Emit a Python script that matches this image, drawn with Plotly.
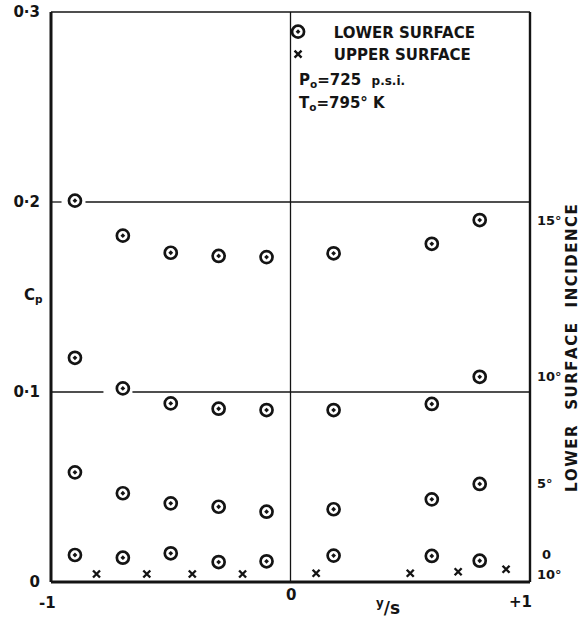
import plotly.graph_objects as go

# Spanwise stations (y/s) of the lower-surface tappings
y_over_s_lower = [-0.9, -0.7, -0.5, -0.3, -0.1, 0.18, 0.59, 0.79]

# Lower-surface pressure coefficient at each incidence
cp_lower_15 = [0.2007, 0.1823, 0.1733, 0.1716, 0.1710, 0.1730, 0.1780, 0.1905]
cp_lower_10 = [0.1180, 0.1019, 0.0940, 0.0912, 0.0905, 0.0905, 0.0937, 0.1080]
cp_lower_5 = [0.0577, 0.0467, 0.0414, 0.0396, 0.0370, 0.0383, 0.0435, 0.0516]
cp_lower_0 = [0.0142, 0.0128, 0.0151, 0.0105, 0.0109, 0.0139, 0.0137, 0.0112]

# Upper-surface tappings
y_over_s_upper = [-0.81, -0.60, -0.41, -0.20, 0.107, 0.50, 0.70, 0.90]
cp_upper = [0.0042, 0.0042, 0.0042, 0.0042, 0.0046, 0.0046, 0.0054, 0.0067]

incidence_labels = ["15°", "10°", "5°", "0"]
y_ticks = [0, 0.1, 0.2, 0.3]
y_tick_text = ["0", "0·1", "0·2", "0·3"]
x_ticks = [-1, 0, 1]
x_tick_text = ["-1", "0", "+1"]

INK = "#141414"
FONT = "DejaVu Sans"


def tfont(size):
    return dict(family=FONT, size=size, color=INK, weight="bold")


def spaced(words):
    # open out the lettering of the rotated side title
    hair = "\u200a"
    return "\u00a0\u00a0\u00a0".join(hair.join(w) for w in words)


fig = go.Figure()

rows = [cp_lower_15, cp_lower_10, cp_lower_5, cp_lower_0]
for i, row in enumerate(rows):
    fig.add_trace(go.Scatter(
        x=y_over_s_lower, y=row, mode="markers",
        name="\u00a0\u00a0\u00a0LOWER SURFACE", showlegend=(i == 0),
        marker=dict(symbol="circle-dot", size=12, color="white",
                    line=dict(color=INK, width=2.7)),
        cliponaxis=False,
    ))

fig.add_trace(go.Scatter(
    x=y_over_s_upper, y=cp_upper, mode="markers",
    name="\u00a0\u00a0\u00a0UPPER SURFACE",
    marker=dict(symbol="x-thin", size=7, line=dict(color=INK, width=2.4)),
    cliponaxis=False,
))

shapes = []
# horizontal grid lines, broken where they would run through a point
grid_segments = {
    0.2: [(-1, -0.956), (-0.856, 1)],
    0.1: [(-1, -0.781), (-0.66, 1)],
}
for yv, segs in grid_segments.items():
    for a, b in segs:
        shapes.append(dict(type="line", xref="x", yref="y", x0=a, x1=b, y0=yv, y1=yv,
                           line=dict(color=INK, width=1.3)))
# centre line y/s = 0
shapes.append(dict(type="line", xref="x", yref="paper", x0=0, x1=0, y0=0, y1=1,
                   line=dict(color=INK, width=1.3)))
# frame
shapes += [
    dict(type="line", xref="paper", yref="paper", x0=0, x1=0, y0=0, y1=1, line=dict(color=INK, width=3)),
    dict(type="line", xref="paper", yref="paper", x0=0, x1=1, y0=0, y1=0, line=dict(color=INK, width=3)),
    dict(type="line", xref="paper", yref="paper", x0=1, x1=1, y0=0, y1=1, line=dict(color=INK, width=2.4)),
    dict(type="line", xref="paper", yref="paper", x0=0, x1=1, y0=1, y1=1, line=dict(color=INK, width=1.3)),
]

annotations = []
# incidence labels on the right, level with the outermost point of each row
for lab, row in zip(incidence_labels, rows):
    annotations.append(dict(x=1, xref="paper", xanchor="left",
                            xshift=(10 if lab == "0" else 5),
                            y=row[-1], yref="y", yshift=(6 if lab == "0" else 0),
                            text=lab, showarrow=False, font=tfont(13)))
annotations.append(dict(x=1, xref="paper", xanchor="left", xshift=5,
                        y=cp_upper[-1], yref="y", yshift=-5,
                        text="10°", showarrow=False, font=tfont(13)))
annotations.append(dict(x=1, xref="paper", xanchor="center", xshift=42,
                        y=0.5, yref="paper", yshift=-51,
                        text=spaced(["LOWER", "SURFACE", "INCIDENCE"]), textangle=-90,
                        showarrow=False, font=tfont(15)))
# x tick labels
for xv, t in zip(x_ticks, x_tick_text):
    shift = {-1: -4, 0: 0, 1: -10}[xv]
    ys = {-1: -21, 0: -13, 1: -20}[xv]
    annotations.append(dict(x=xv, xref="x", y=0, yref="paper", yanchor="middle",
                            xshift=shift, yshift=ys, text=t, showarrow=False,
                            font=tfont(15)))
# axis titles
annotations.append(dict(x=-1, xref="x", xshift=-18, y=0.151, yref="y",
                        text="C<sub>p</sub>", showarrow=False, font=tfont(15)))
annotations.append(dict(x=0, xref="x", xshift=97, y=0, yref="paper", yshift=-38,
                        text="<sup>y</sup>/s", showarrow=False, font=tfont(17)))
# test conditions under the key
annotations.append(dict(x=0.51, xref="paper", xanchor="left", xshift=2, y=0.3, yref="y", yshift=-68,
                        text="P<sub>o</sub>=725  <span style='font-size:12px'>p.s.i.</span>",
                        showarrow=False, font=tfont(15)))
annotations.append(dict(x=0.51, xref="paper", xanchor="left", xshift=2, y=0.3, yref="y", yshift=-91,
                        text="T<sub>o</sub>=795° K",
                        showarrow=False, font=tfont(15)))

fig.update_layout(
    width=580, height=626,
    margin=dict(l=51, r=50, t=12, b=44, autoexpand=False),
    paper_bgcolor="white", plot_bgcolor="white",
    shapes=shapes, annotations=annotations,
    showlegend=True,
    legend=dict(x=0.474, y=0.994, xanchor="left", yanchor="top",
                bgcolor="rgba(0,0,0,0)", font=tfont(15),
                tracegroupgap=0),
    xaxis=dict(range=[-1, 1], showgrid=False, zeroline=False, showline=False,
               showticklabels=False, ticks="", fixedrange=True, automargin=False),
    yaxis=dict(range=[0, 0.3], showgrid=False, zeroline=False, showline=False,
               tickvals=y_ticks, ticktext=y_tick_text, ticks="",
               ticklabelstandoff=10, automargin=False,
               tickfont=tfont(15), fixedrange=True),
    font=dict(family=FONT, color=INK),
)

fig.write_html("out.html")
